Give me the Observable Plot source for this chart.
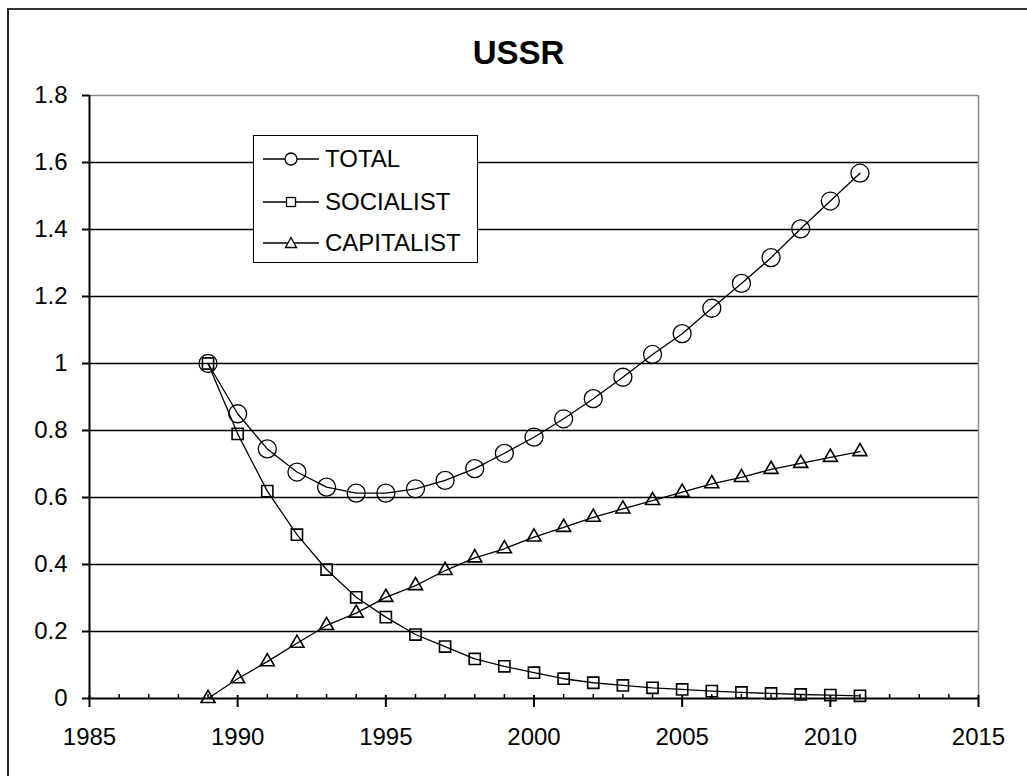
<!DOCTYPE html>
<html>
<head>
<meta charset="utf-8">
<script src="https://cdn.jsdelivr.net/npm/d3@7"></script>
<script src="https://cdn.jsdelivr.net/npm/@observablehq/plot@0.6"></script>
<style>
  html, body { margin: 0; padding: 0; background: #fff; }
  #wrap { position: relative; width: 1027px; height: 776px; overflow: hidden; font-family: "Liberation Sans", Arial, sans-serif; }
  #chart { position: absolute; left: 0; top: 0; }
  #border { position: absolute; left: 7px; top: 8px; width: 1100px; height: 900px; border-left: 2.5px solid #222; border-top: 2.5px solid #333; }
  #title { position: absolute; left: 0; top: 36px; width: 1037px; text-align: center; font-weight: bold; font-size: 33px; line-height: 33px; color: #000; }
  #legend { position: absolute; left: 253px; top: 135px; width: 225px; height: 128px; box-sizing: border-box; border: 1.5px solid #000; background: #fff; }
  .row { position: absolute; left: 0; height: 30px; }
  .row svg { position: absolute; left: 7px; top: 0; }
  .row span { position: absolute; left: 71px; top: 1px; font-size: 24px; line-height: 28px; white-space: nowrap; color: #000; }
</style>
</head>
<body>
<div id="wrap">
  <div id="border"></div>
  <div id="chart"></div>
  <div id="title"></div>
  <div id="legend"></div>
</div>
<script>
const title = "USSR";
const seriesNames = ["TOTAL", "SOCIALIST", "CAPITALIST"];
const years = [1989, 1990, 1991, 1992, 1993, 1994, 1995, 1996, 1997, 1998, 1999, 2000,
               2001, 2002, 2003, 2004, 2005, 2006, 2007, 2008, 2009, 2010, 2011];
const total = [1.0, 0.85, 0.745, 0.676, 0.631, 0.613, 0.613, 0.626, 0.651, 0.686, 0.732, 0.780,
               0.835, 0.895, 0.959, 1.027, 1.089, 1.165, 1.239, 1.316, 1.402, 1.485, 1.568];
const socialist = [1.0, 0.790, 0.619, 0.489, 0.385, 0.302, 0.243, 0.191, 0.155, 0.118, 0.096, 0.077,
                   0.059, 0.047, 0.039, 0.032, 0.027, 0.022, 0.018, 0.015, 0.012, 0.010, 0.008];
const capitalist = [0, 0.059, 0.110, 0.165, 0.218, 0.255, 0.302, 0.337, 0.382, 0.420, 0.447, 0.482,
                    0.511, 0.541, 0.566, 0.591, 0.616, 0.641, 0.660, 0.684, 0.702, 0.720, 0.737];
const xTicks = [1985, 1990, 1995, 2000, 2005, 2010, 2015];
const xMinorTicks = [1986, 1987, 1988, 1989, 1991, 1992, 1993, 1994, 1996, 1997, 1998, 1999,
                     2001, 2002, 2003, 2004, 2006, 2007, 2008, 2009, 2011, 2012, 2013, 2014];
const yTicks = [0, 0.2, 0.4, 0.6, 0.8, 1, 1.2, 1.4, 1.6, 1.8];
const gridValues = [0.2, 0.4, 0.6, 0.8, 1, 1.2, 1.4, 1.6];

const rows = (vals) => years.map((y, i) => ({year: y, value: vals[i]}));
const totalRows = rows(total), socRows = rows(socialist), capRows = rows(capitalist);

const lineStyle = {x: "year", y: "value", stroke: "#000", strokeWidth: 1.3};

const chart = Plot.plot({
  width: 1027,
  height: 776,
  marginLeft: 89,
  marginRight: 49,
  marginTop: 95,
  marginBottom: 78,
  style: {fontFamily: "Liberation Sans, Arial, sans-serif", fontSize: "24px", color: "#000", background: "transparent"},
  x: {domain: [1985, 2015]},
  y: {domain: [0, 1.8]},
  marks: [
    Plot.ruleY(gridValues, {stroke: "#000", strokeWidth: 1.4}),
    Plot.ruleY([1.8], {stroke: "#8a8a8a", strokeWidth: 1.5}),
    Plot.ruleX([2015], {stroke: "#8a8a8a", strokeWidth: 1.5}),
    Plot.line(totalRows, lineStyle),
    Plot.line(socRows, lineStyle),
    Plot.line(capRows, lineStyle),
    Plot.dot(totalRows, {x: "year", y: "value", r: 9, symbol: "circle", stroke: "#000", strokeWidth: 1.3, fill: "none"}),
    Plot.dot(socRows, {x: "year", y: "value", r: 6.3, symbol: "square", stroke: "#000", strokeWidth: 1.6, fill: "none"}),
    Plot.dot(capRows, {x: "year", y: "value", r: 5.2, symbol: "triangle", stroke: "#000", strokeWidth: 1.6, fill: "none"}),
    Plot.ruleY([0], {stroke: "#000", strokeWidth: 2}),
    Plot.ruleX([1985], {stroke: "#000", strokeWidth: 2}),
    Plot.axisY({ticks: yTicks, tickSize: 7, tickPadding: 15, tickFormat: d => String(d), label: null, strokeWidth: 2}),
    Plot.axisX({ticks: xMinorTicks, tickSize: 4, dy: -4, tickFormat: () => "", label: null, strokeWidth: 1.5}),
    Plot.axisX({ticks: xTicks, tickSize: 12, dy: -3, tickFormat: () => "", label: null, strokeWidth: 2}),
    Plot.axisX({ticks: xTicks, tickSize: 0, tickPadding: 29, tickFormat: "d", label: null})
  ]
});
document.getElementById("chart").appendChild(chart);
document.getElementById("title").textContent = title;

// legend
const legend = document.getElementById("legend");
const symbols = [
  '<circle cx="30" cy="15" r="6" fill="#fff" stroke="#000" stroke-width="1.3"/>',
  '<rect x="25.5" y="10.5" width="9" height="9" fill="#fff" stroke="#000" stroke-width="1.3"/>',
  '<path d="M30,9.5 L35.5,19.5 L24.5,19.5 Z" fill="#fff" stroke="#000" stroke-width="1.3"/>'
];
const rowTops = [8, 51, 92];
seriesNames.forEach((name, i) => {
  const row = document.createElement("div");
  row.className = "row";
  row.style.top = rowTops[i] + "px";
  row.innerHTML = '<svg width="60" height="30"><line x1="2" y1="15" x2="58" y2="15" stroke="#000" stroke-width="1.3"/>' +
    symbols[i] + '</svg><span>' + name + '</span>';
  legend.appendChild(row);
});
</script>
</body>
</html>
